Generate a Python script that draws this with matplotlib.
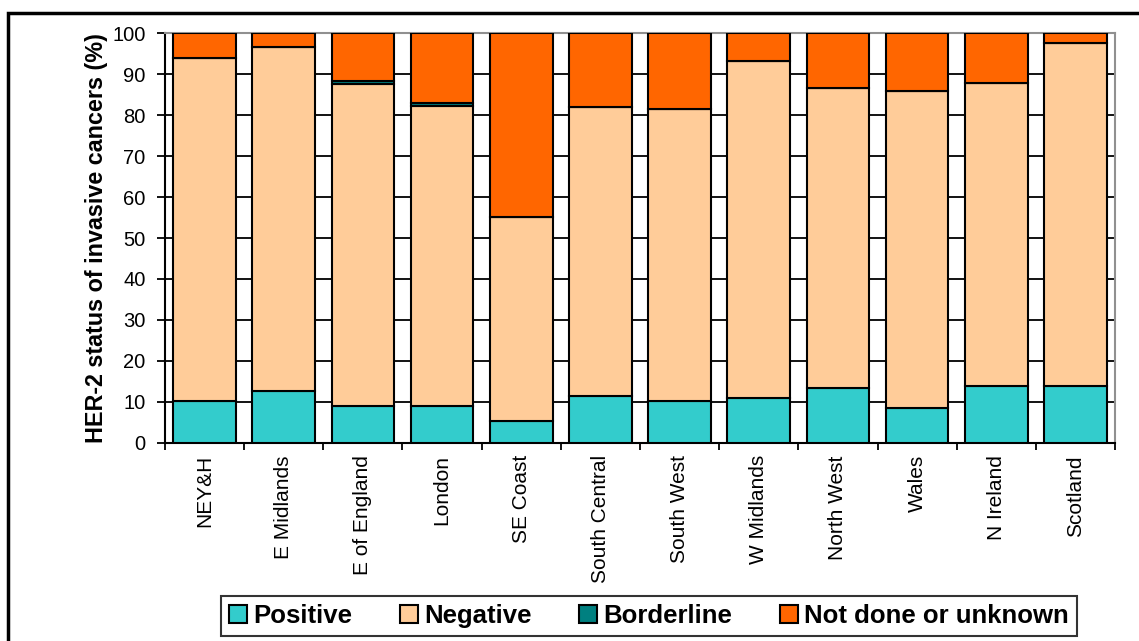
import numpy as np
import matplotlib
matplotlib.use("Agg")
import matplotlib.pyplot as plt
from matplotlib.patches import Rectangle

plt.rcParams['font.family'] = ['Liberation Sans', 'DejaVu Sans']

regions = ["NEY&H", "E Midlands", "E of England", "London", "SE Coast",
           "South Central", "South West", "W Midlands", "North West",
           "Wales", "N Ireland", "Scotland"]
positive = [10.1, 12.6, 8.9, 8.9, 5.3, 11.5, 10.3, 10.9, 13.4, 8.4, 13.9, 13.9]
negative = [83.8, 84.1, 78.7, 73.3, 49.8, 70.6, 71.3, 82.3, 73.2, 77.6, 73.9, 83.7]
borderline = [0.0, 0.0, 0.8, 0.7, 0.0, 0.0, 0.0, 0.0, 0.0, 0.0, 0.0, 0.0]
not_done = [6.1, 3.3, 11.6, 17.1, 44.9, 17.9, 18.4, 6.8, 13.4, 14.0, 12.2, 2.4]

series = [("Positive", positive, "#33CCCC"),
          ("Negative", negative, "#FFCC99"),
          ("Borderline", borderline, "#008080"),
          ("Not done or unknown", not_done, "#FF6600")]

fig = plt.figure(figsize=(11.39, 6.41), dpi=100)
ax = fig.add_axes([165 / 1139, 1 - 442.7 / 641, (1115 - 165) / 1139, (442.7 - 33.3) / 641])

x = np.arange(len(regions))
bottom = np.zeros(len(regions))
handles = []
for name, vals, col in series:
    vals = np.array(vals)
    b = ax.bar(x, vals, width=0.79, bottom=bottom, color=col,
               edgecolor="black", linewidth=1.5, label=name, zorder=3)
    handles.append(b)
    bottom += vals

ax.set_xlim(-0.5, len(regions) - 0.5)
ax.set_ylim(0, 100)
ax.set_yticks(np.arange(0, 101, 10))
ax.yaxis.grid(True, color="black", linewidth=1.3, zorder=0)
ax.set_axisbelow(True)

ax.set_xticks(np.arange(len(regions) + 1) - 0.5)
ax.set_xticklabels([])
ax.set_xticks(x, minor=True)
ax.set_xticklabels(regions, minor=True, rotation=90, fontsize=15)
ax.tick_params(axis="x", which="major", length=5, width=1.3, direction="out")
ax.tick_params(axis="x", which="minor", length=0, pad=9)
ax.tick_params(axis="y", length=6, width=1.3, labelsize=14.5, pad=8)

for s in ("top", "right"):
    ax.spines[s].set_color("#909090")
    ax.spines[s].set_linewidth(1.5)
for s in ("left", "bottom"):
    ax.spines[s].set_color("black")
    ax.spines[s].set_linewidth(1.5)

fig.text(97 / 1139, 1 - 238 / 641, "HER-2 status of invasive cancers (%)",
         rotation=90, ha="center", va="center", fontsize=16.8, fontweight="bold")

leg = fig.legend(handles, [s[0] for s in series], loc="center",
                 bbox_to_anchor=((223 + 1075) / 2 / 1139, 1 - 616 / 641),
                 ncol=4, frameon=True, fancybox=False, edgecolor="black",
                 prop={"weight": "bold", "size": 18.5},
                 handlelength=0.7, handleheight=0.7, handletextpad=0.25,
                 columnspacing=1.85, borderpad=0.3, borderaxespad=0)
leg.get_frame().set_linewidth(1.5)

# outer frame around the chart
fig.patches.append(Rectangle((8 / 1139, -0.05), 1.1, 1 - 13 / 641 + 0.05,
                             transform=fig.transFigure, fill=False,
                             edgecolor="black", linewidth=2.5, clip_on=False))

fig.savefig("out.png", dpi=100)
